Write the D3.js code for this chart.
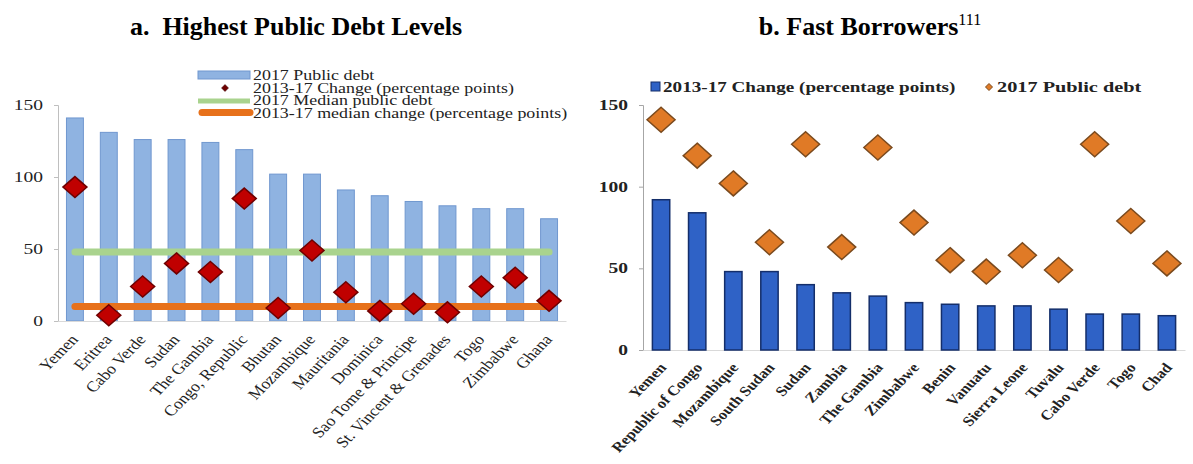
<!DOCTYPE html>
<html><head><meta charset="utf-8">
<script src="https://cdn.jsdelivr.net/npm/d3@7"></script>
<style>body{margin:0;background:#fff}svg{display:block}</style>
</head><body>
<svg id="c" width="1193" height="464"></svg>
<script>
// Panel a: Highest Public Debt Levels
const catsA = ["Yemen","Eritrea","Cabo Verde","Sudan","The Gambia","Congo, Republic","Bhutan","Mozambique","Mauritania","Dominica","Sao Tome & Principe","St. Vincent & Grenades","Togo","Zimbabwe","Ghana"];
const debtA = [141,131,126,126,124,119,102,102,91,87,83,80,78,78,71];
const changeA = [93,4,24,40,34,85,9,49,20,7,12,6,24,30,14];
const medianDebtA = 48;
const medianChangeA = 10;
// Panel b: Fast Borrowers
const catsB = ["Yemen","Republic of Congo","Mozambique","South Sudan","Sudan","Zambia","The Gambia","Zimbabwe","Benin","Vanuatu","Sierra Leone","Tuvalu","Cabo Verde","Togo","Chad"];
const changeB = [92,84,48,48,40,35,33,29,28,27,27,25,22,22,21];
const debtB = [141,119,102,66,126,63,124,78,55,48,58,49,126,79,53];
const yTicks = [0,50,100,150];

const svg = d3.select("#c");
const serif = "'Liberation Serif','Times New Roman',serif";

// Titles
svg.append("text").attr("x",296).attr("y",35).attr("text-anchor","middle")
  .attr("xml:space","preserve")
  .style("font-family",serif).style("font-weight","bold").style("font-size","26px")
  .text("a.  Highest Public Debt Levels");
const tb = svg.append("text").attr("x",870).attr("y",35).attr("text-anchor","middle")
  .style("font-family",serif).style("font-weight","bold").style("font-size","26px");
tb.append("tspan").text("b. Fast Borrowers");
tb.append("tspan").attr("dy",-10).style("font-weight","normal").style("font-size","16px").text("111");

function diamond(sel, cx, cy, rx, ry, fill, stroke, sw){
  return sel.append("path")
    .attr("d",`M${cx},${cy-ry}L${cx+rx},${cy}L${cx},${cy+ry}L${cx-rx},${cy}Z`)
    .attr("fill",fill).attr("stroke",stroke).attr("stroke-width",sw);
}
function stext(sel, x, y, t, size, weight, anchor, sx){
  return sel.append("text").attr("transform",`translate(${x},${y}) scale(${sx||1.28},1)`)
    .attr("text-anchor",anchor||"start")
    .style("font-family",serif).style("font-size",size+"px").style("font-weight",weight||"normal")
    .attr("fill","#222").text(t);
}

// ---------- Panel A ----------
{
  const x = d3.scaleBand().domain(catsA).range([58,566]).paddingInner(0.5).paddingOuter(0.25);
  const y = d3.scaleLinear().domain([0,150]).range([321,105]);
  const g = svg.append("g");
  const ya = g.append("g").attr("transform","translate(58,0)")
    .call(d3.axisLeft(y).tickValues(yTicks).tickSize(4).tickFormat(""));
  ya.select(".domain").attr("stroke","#bfbfbf");
  ya.selectAll(".tick line").attr("stroke","#bfbfbf");
  yTicks.forEach(v=>stext(g, 43, y(v)+5, String(v), 15, "normal", "end", 1.3));
  g.selectAll(".barA").data(catsA).join("rect")
    .attr("x",d=>x(d)).attr("width",x.bandwidth())
    .attr("y",(d,i)=>y(debtA[i])).attr("height",(d,i)=>y(0)-y(debtA[i]))
    .attr("fill","#8fb3e1").attr("stroke","#7097cf").attr("stroke-width",1);
  const xa = g.append("g").attr("transform","translate(0,321)")
    .call(d3.axisBottom(x).tickSize(0).tickFormat(""));
  xa.select(".domain").attr("stroke","#d9d9d9");
  const x0 = x(catsA[0])+x.bandwidth()/2, x1 = x(catsA[catsA.length-1])+x.bandwidth()/2;
  g.append("line").attr("x1",x0).attr("x2",x1).attr("y1",y(medianDebtA)).attr("y2",y(medianDebtA))
    .attr("stroke","#a9d38e").attr("stroke-width",7).attr("stroke-linecap","round");
  g.append("line").attr("x1",x0).attr("x2",x1).attr("y1",y(medianChangeA)).attr("y2",y(medianChangeA))
    .attr("stroke","#e7711b").attr("stroke-width",7).attr("stroke-linecap","round");
  catsA.forEach((c,i)=>diamond(g, x(c)+x.bandwidth()/2, y(changeA[i]), 12, 10.5, "#c00000","#6e0000",1.5));
  g.selectAll(".lblA").data(catsA).join("text")
    .attr("transform",d=>`translate(${x(d)+x.bandwidth()/2+4},${340}) scale(1.18,1) rotate(-50)`)
    .attr("text-anchor","end")
    .style("font-family",serif).style("font-size","15px").attr("fill","#222")
    .text(d=>d);
  const L = g.append("g");
  L.append("rect").attr("x",198).attr("y",71).attr("width",52).attr("height",8).attr("fill","#8fb3e1").attr("stroke","#7097cf");
  diamond(L,225,88,3.5,3.5,"#6e0000","#3a0000",0.5);
  L.append("line").attr("x1",198).attr("x2",250).attr("y1",101).attr("y2",101).attr("stroke","#a9d38e").attr("stroke-width",5);
  L.append("line").attr("x1",202).attr("x2",250).attr("y1",112.5).attr("y2",112.5).attr("stroke","#e7711b").attr("stroke-width",7).attr("stroke-linecap","round");
  const legA = ["2017 Public debt","2013-17 Change (percentage points)","2017 Median public debt","2013-17 median change (percentage points)"];
  legA.forEach((t,i)=>stext(L, 253, 80+i*12.5, t, 14));
}

// ---------- Panel B ----------
{
  const x = d3.scaleBand().domain(catsB).range([643,1185]).paddingInner(0.52).paddingOuter(0.26);
  const y = d3.scaleLinear().domain([0,150]).range([350,105]);
  const g = svg.append("g");
  const ya = g.append("g").attr("transform","translate(643,0)")
    .call(d3.axisLeft(y).tickValues(yTicks).tickSize(4).tickFormat(""));
  ya.select(".domain").attr("stroke","#a6a6a6");
  ya.selectAll(".tick line").attr("stroke","#a6a6a6");
  yTicks.forEach(v=>stext(g, 628, y(v)+5, String(v), 15, "bold", "end", 1.3));
  const xa = g.append("g").attr("transform","translate(0,350)")
    .call(d3.axisBottom(x).tickSize(0).tickFormat(""));
  xa.select(".domain").attr("stroke","#d9d9d9");
  g.selectAll(".barB").data(catsB).join("rect")
    .attr("x",d=>x(d)).attr("width",x.bandwidth())
    .attr("y",(d,i)=>y(changeB[i])).attr("height",(d,i)=>y(0)-y(changeB[i]))
    .attr("fill","#2f62c6").attr("stroke","#142e6a").attr("stroke-width",1.5);
  catsB.forEach((c,i)=>diamond(g, x(c)+x.bandwidth()/2, y(debtB[i]), 14, 12.5, "#e07a26","#7a4a1e",1.5));
  g.selectAll(".lblB").data(catsB).join("text")
    .attr("transform",d=>`translate(${x(d)+x.bandwidth()/2+6},${368}) scale(1.18,1) rotate(-50)`)
    .attr("text-anchor","end")
    .style("font-family",serif).style("font-weight","bold").style("font-size","14px").attr("fill","#222")
    .text(d=>d);
  const L = g.append("g");
  L.append("rect").attr("x",651).attr("y",82).attr("width",9).attr("height",9).attr("fill","#2f62c6").attr("stroke","#142e6a");
  stext(L, 663, 92, "2013-17 Change (percentage points)", 14.5, "bold", "start", 1.32);
  diamond(L,989,87,3.5,3.5,"#e07a26","#7a4a1e",1);
  stext(L, 997, 92, "2017 Public debt", 14.5, "bold", "start", 1.4);
}
</script>
</body></html>
